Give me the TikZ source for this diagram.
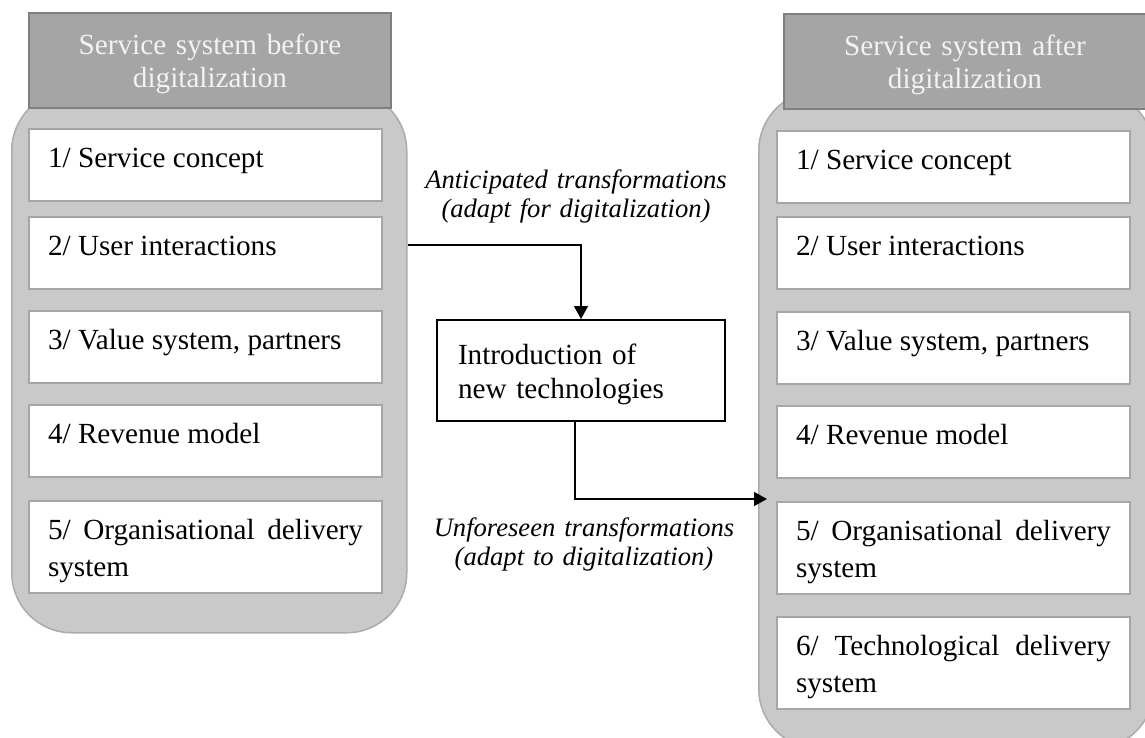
\documentclass[tikz,border=0pt]{standalone}
\usepackage{fontspec}
\setmainfont{Liberation Serif}
\usetikzlibrary{arrows.meta}

\definecolor{headfill}{HTML}{A5A5A5}
\definecolor{headline}{HTML}{7F7F7F}
\definecolor{headtext}{HTML}{F2F2F2}
\definecolor{panelfill}{HTML}{C9C9C9}
\definecolor{panelline}{HTML}{ABABAB}
\definecolor{itemline}{HTML}{A6A6A6}

\begin{document}
\begin{tikzpicture}
[x=1pt, y=-1pt,
 panel/.style={draw=panelline, line width=1.5pt, fill=panelfill, rounded corners=60pt,
   anchor=north west, inner sep=0pt, minimum width=395pt},
 head/.style={draw=headline, line width=2pt, fill=headfill, text=headtext,
   anchor=north west, inner xsep=11pt, inner ysep=0pt, text width=340pt, align=center,
   text height=41pt, text depth=54pt, font=\fontsize{29.2}{33}\selectfont},
 item/.style={draw=itemline, line width=2pt, fill=white, anchor=north west,
   inner xsep=19pt, inner ysep=0pt, text width=315pt, align=justify,
   text height=38pt, text depth=34pt, font=\fontsize{29.2}{37}\selectfont},
 twoline/.style={text depth=54pt},
 techbox/.style={draw=black, line width=2pt, fill=white, anchor=north west,
   inner xsep=21pt, inner ysep=0pt, text width=246pt, align=left,
   text height=44pt, text depth=57pt, font=\fontsize{29.2}{34}\selectfont},
 note/.style={anchor=north, inner sep=0pt, text width=340pt, align=center,
   text height=20pt, font=\fontsize{26.6}{28.8}\selectfont\itshape},
 flow/.style={line width=1.3pt, -{Triangle[length=13pt,width=14pt]}}]

\useasboundingbox (0,0) rectangle (1145,737);

% left side: before digitalization
\node [panel, minimum height=542pt] (before) at (11,90) {};
\node [head] (beforehead) at (28,12) {Service system before\\digitalization};
\node [item] (b1) at (28,128) {1/ Service concept};
\node [item] (b2) at (28,216) {2/ User interactions};
\node [item] (b3) at (28,310) {3/ Value system, partners};
\node [item] (b4) at (28,404) {4/ Revenue model};
\node [item, twoline] (b5) at (28,500) {5/ Organisational delivery system};

% right side: after digitalization
\node [panel, minimum height=658pt] (after) at (758,90) {};
\node [head] (afterhead) at (783,13) {Service system after\\digitalization};
\node [item] (a1) at (776,130) {1/ Service concept};
\node [item] (a2) at (776,216) {2/ User interactions};
\node [item] (a3) at (776,311) {3/ Value system, partners};
\node [item] (a4) at (776,405) {4/ Revenue model};
\node [item, twoline] (a5) at (776,501) {5/ Organisational delivery system};
\node [item, twoline] (a6) at (776,616) {6/ Technological delivery system};

% middle
\node [techbox] (intro) at (436,319) {Introduction of\\new technologies};
\node [note] (anticipated) at (576,168) {Anticipated transformations\\(adapt for digitalization)};
\node [note] (unforeseen) at (584,516) {Unforeseen transformations\\(adapt to digitalization)};

\coordinate (leave) at ([yshift=8pt]b2.east);
\coordinate (entry) at ([xshift=9pt,yshift=2pt]after.west |- a5.north);

\draw [flow] (before.east |- leave) -| (intro.north);
\draw [flow] ([xshift=-6pt]intro.south) |- (entry);

\end{tikzpicture}
\end{document}
